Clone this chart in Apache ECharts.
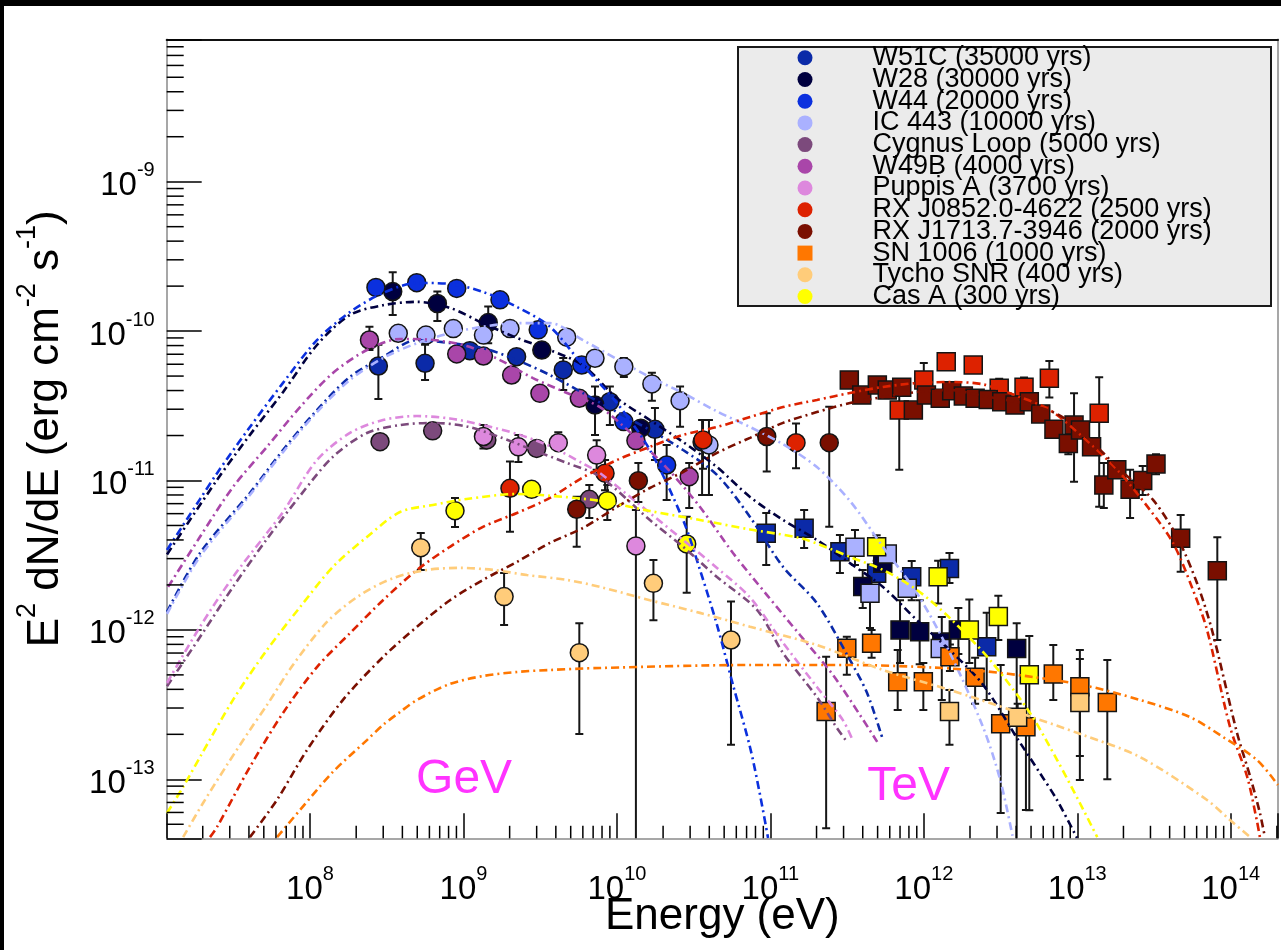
<!DOCTYPE html>
<html>
<head>
<meta charset="utf-8">
<title>Gamma-ray spectra of supernova remnants</title>
<script src="https://cdn.jsdelivr.net/npm/echarts@6.0.0/dist/echarts.min.js"></script>
<style>
  html, body { margin: 0; padding: 0; background: #ffffff; }
  #chart { width: 1281px; height: 950px; }
</style>
</head>
<body>
<div id="chart"></div>
<script>
const FONT = '"Liberation Sans", Arial, Helvetica, sans-serif';

// Axis extents: energy in eV, E^2 dN/dE in erg cm^-2 s^-1
const energyRange = [1.1645e7, 2.0335e14];
const fluxRange = [4.028e-14, 8.976e-9];

// Log-axis minor tick mantissas and decades
const minorMantissas = [2, 3, 4, 5, 6, 7, 8, 9];
const energyDecades = [7, 8, 9, 10, 11, 12, 13, 14];
const fluxDecades = [-14, -13, -12, -11, -10, -9];

// Band captions and where they sit (energy, flux)
const bandNames = ['GeV', 'TeV'];
const bandAnchors = [[1.01e9, 9.9e-14], [7.97e11, 8.86e-14]];

// Legend entries
const sourceNames = [
  'W51C (35000 yrs)', 'W28 (30000 yrs)', 'W44 (20000 yrs)', 'IC 443 (10000 yrs)',
  'Cygnus Loop (5000 yrs)', 'W49B (4000 yrs)', 'Puppis A (3700 yrs)',
  'RX J0852.0-4622 (2500 yrs)', 'RX J1713.7-3946 (2000 yrs)', 'SN 1006 (1000 yrs)',
  'Tycho SNR (400 yrs)', 'Cas A (300 yrs)'
];
const sourceColors = [
  '#0b2aa8', '#00003f', '#0b30de', '#aab1ff', '#7c4a7c', '#a946a9', '#dd88dd',
  '#dd2200', '#7a0f00', '#ff7700', '#ffcc7a', '#ffff00'
];

// Measured points: [energy, flux, fluxLow, fluxHigh]; "lat" = GeV circles, "tev" = TeV squares
const w51cLat = [
  [2.79e8, 5.84e-11, 3.51e-11, 8.1e-11], [5.62e8, 6.09e-11, 4.71e-11, 8.1e-11],
  [1.10e9, 7.4e-11], [2.22e9, 6.74e-11], [4.47e9, 5.5e-11, 4.03e-11, 6.6e-11],
  [9.0e9, 3.37e-11, 2.35e-11, 4.25e-11], [1.77e10, 2.2e-11, 1.37e-11, 3.06e-11],
  [3.59e10, 1.81e-11, 8.0e-12, 2.54e-11]
];
const w51cTev = [
  [9.4e10, 4.43e-12, 2.72e-12, 6.06e-12], [1.66e11, 4.79e-12, 3.53e-12, 6.35e-12],
  [2.84e11, 3.34e-12, 2.40e-12, 4.32e-12], [4.93e11, 2.39e-12],
  [8.34e11, 2.27e-12, 1.58e-12, 2.89e-12], [1.47e12, 2.58e-12, 2.06e-12, 3.27e-12],
  [2.57e12, 7.7e-13, 3.4e-13, 1.30e-12]
];
const w28Lat = [
  [3.46e8, 1.84e-10, 1.28e-10, 2.48e-10], [6.76e8, 1.53e-10, 1.17e-10, 1.84e-10],
  [1.45e9, 1.14e-10, 8.3e-11, 1.46e-10], [3.24e9, 7.47e-11],
  [7.2e9, 3.2e-11, 2.02e-11, 4.25e-11], [1.43e10, 2.24e-11]
];
const w28Tev = [
  [4.0e11, 1.95e-12, 1.40e-12, 2.52e-12], [5.4e11, 2.79e-12],
  [7.0e11, 1.0e-12, 6.0e-13, 1.58e-12], [9.4e11, 9.7e-13, 5.9e-13, 1.58e-12],
  [1.31e12, 8.3e-13, 3.4e-13, 1.22e-12], [1.68e12, 1.0e-12, 6.9e-13, 1.4e-12],
  [4.03e12, 7.5e-13, 1e-14, 1.11e-12]
];
const w44Lat = [
  [2.69e8, 1.96e-10], [4.96e8, 2.11e-10], [9.04e8, 1.93e-10], [1.73e9, 1.62e-10],
  [3.07e9, 1.02e-10], [5.90e9, 5.93e-11], [1.11e10, 2.48e-11],
  [2.11e10, 1.27e-11, 7.4e-12, 1.73e-11]
];
const ic443Lat = [
  [3.76e8, 9.67e-11], [5.70e8, 9.4e-11], [8.59e8, 1.04e-10], [1.35e9, 9.4e-11],
  [2.01e9, 1.04e-10], [4.71e9, 9.1e-11], [7.2e9, 6.58e-11],
  [1.11e10, 5.78e-11, 4.93e-11, 6.6e-11], [1.69e10, 4.43e-11, 3.42e-11, 5.27e-11],
  [2.58e10, 3.42e-11, 2.29e-11, 4.25e-11], [3.98e10, 1.73e-11, 8.0e-12, 2.54e-11]
];
const ic443Tev = [
  [3.56e11, 3.57e-12, 2.72e-12, 4.67e-12], [5.78e11, 3.22e-12],
  [4.46e11, 1.76e-12, 1.03e-12, 2.23e-12], [7.8e11, 1.9e-12], [1.28e12, 7.5e-13]
];
const cygnusLat = [
  [2.86e8, 1.82e-11], [6.30e8, 2.15e-11], [1.42e9, 1.87e-11], [3.0e9, 1.64e-11],
  [6.61e9, 7.48e-12, 5.61e-12, 9.33e-12]
];
const w49bLat = [
  [2.44e8, 8.72e-11, 7.47e-11, 1.07e-10], [9.04e8, 7.03e-11], [1.35e9, 6.81e-11],
  [2.06e9, 5.08e-11], [3.15e9, 3.83e-11], [5.69e9, 3.55e-11], [1.33e10, 1.85e-11],
  [2.96e10, 1.06e-11, 6.55e-12, 1.31e-11]
];
const puppisLat = [
  [1.35e9, 1.97e-11, 1.64e-11, 2.35e-11], [2.28e9, 1.68e-11, 1.33e-11, 2.02e-11],
  [4.15e9, 1.79e-11, 1.6e-11, 2.1e-11], [7.38e9, 1.48e-11, 1.18e-11, 1.86e-11],
  [1.33e10, 3.65e-12, 1e-14, 6.35e-12]
];
const velaJrLat = [
  [2.01e9, 8.87e-12, 4.54e-12, 1.34e-11], [8.37e9, 1.12e-11, 8.6e-12, 1.37e-11],
  [3.64e10, 1.87e-11, 1.2e-11, 2.54e-11], [1.47e11, 1.79e-11, 1.21e-11, 2.41e-11]
];
const velaJrTev = [
  [6.92e11, 2.96e-11, 1.18e-11, 4.71e-11], [1.0e12, 4.71e-11, 4.0e-11, 6.11e-11],
  [1.40e12, 6.24e-11, 5.6e-11, 6.8e-11], [2.10e12, 5.93e-11, 5.3e-11, 6.6e-11],
  [3.10e12, 4.14e-11, 3.8e-11, 4.8e-11], [4.50e12, 4.21e-11, 3.8e-11, 4.9e-11],
  [6.58e12, 4.83e-11, 3.6e-11, 6.3e-11], [1.39e13, 2.82e-11, 6.68e-12, 4.91e-11]
];
const rxj1713Lat = [
  [5.47e9, 6.42e-12, 3.6e-12, 7.79e-12], [1.38e10, 9.97e-12, 7.18e-12, 1.31e-11],
  [9.47e10, 1.97e-11, 1.15e-11, 2.82e-11], [2.42e11, 1.79e-11, 4.91e-12, 3.12e-11]
];
const rxj1713Tev = [
  [3.27e11, 4.71e-11], [3.94e11, 3.73e-11], [4.98e11, 4.36e-11], [5.78e11, 4.03e-11],
  [7.18e11, 4.21e-11], [8.55e11, 2.96e-11], [1.04e12, 3.73e-11], [1.28e12, 3.55e-11],
  [1.52e12, 3.99e-11], [1.81e12, 3.68e-11], [2.16e12, 3.55e-11], [2.63e12, 3.49e-11],
  [3.22e12, 3.37e-11], [3.93e12, 3.2e-11], [4.87e12, 3.37e-11], [5.78e12, 2.79e-11],
  [7.05e12, 2.2e-11], [8.75e12, 1.77e-11, 1.5e-11, 2.0e-11],
  [9.53e12, 2.35e-11, 9.8e-12, 3.83e-11], [1.05e13, 2.18e-11], [1.24e13, 1.68e-11],
  [1.49e13, 9.33e-12, 6.55e-12, 1.31e-11], [1.81e13, 1.18e-11],
  [2.21e13, 8.73e-12, 5.61e-12, 1.18e-11], [2.67e13, 1.0e-11, 8.0e-12, 1.25e-11],
  [3.26e13, 1.29e-11, 1.1e-11, 1.5e-11], [4.72e13, 4.1e-12, 2.45e-12, 5.87e-12],
  [8.18e13, 2.49e-12, 8.56e-13, 4.17e-12]
];
const sn1006Tev = [
  [2.31e11, 2.84e-13, 4.7e-14, 6.62e-13], [3.15e11, 7.53e-13, 5.0e-13, 9.0e-13],
  [4.57e11, 8.13e-13, 6.5e-13, 1.0e-12], [6.76e11, 4.5e-13, 2.91e-13, 7.33e-13],
  [9.93e11, 4.5e-13, 2.91e-13, 6.0e-13], [1.48e12, 6.62e-13, 5.3e-13, 8.0e-13],
  [2.16e12, 4.82e-13, 3.2e-13, 6.5e-13], [3.17e12, 2.35e-13, 5.95e-14, 5.82e-13],
  [4.63e12, 2.25e-13, 6.23e-14, 4.62e-13], [6.98e12, 5.07e-13, 3.4e-13, 7.92e-13],
  [1.04e13, 4.17e-13, 9.9e-14, 7.33e-13], [1.57e13, 3.26e-13, 1.0e-13, 6.29e-13]
];
const tychoLat = [
  [5.27e8, 3.55e-12, 2.52e-12, 4.45e-12], [1.84e9, 1.67e-12, 1.08e-12, 2.40e-12],
  [5.69e9, 7.04e-13, 2.01e-13, 1.11e-12], [1.73e10, 2.05e-12, 1.16e-12, 2.94e-12],
  [5.54e10, 8.56e-13, 1.7e-13, 1.55e-12]
];
const tychoTev = [
  [1.47e12, 2.84e-13, 1.70e-13, 3.96e-13], [4.09e12, 2.6e-13, 2.0e-13, 3.2e-13],
  [1.04e13, 3.26e-13, 1.43e-13, 6.38e-13]
];
const casALat = [
  [8.81e8, 6.28e-12, 4.89e-12, 7.64e-12], [2.78e9, 8.73e-12, 7.8e-12, 9.5e-12],
  [8.66e9, 7.33e-12, 5.44e-12, 9.33e-12], [2.85e10, 3.76e-12, 1.77e-12, 5.73e-12]
];
const casATev = [
  [4.93e11, 3.6e-12, 2.9e-12, 4.3e-12], [1.24e12, 2.27e-12, 1.5e-12, 2.9e-12],
  [1.98e12, 1.0e-12, 6.0e-13, 1.6e-12], [3.06e12, 1.23e-12, 8.56e-13, 1.69e-12],
  [4.87e12, 5.0e-13, 6.2e-14, 9.1e-13]
];

// Model curves: [energy, flux]
const w51cModel = [
  [1.17e7, 1.32e-12], [1.92e7, 3.27e-12], [4.06e7, 8.25e-12], [6.67e7, 1.6e-11],
  [1.11e8, 2.96e-11], [1.82e8, 4.93e-11], [2.99e8, 6.71e-11], [4.98e8, 8.72e-11],
  [8.17e8, 8.32e-11], [1.34e9, 7.7e-11], [2.23e9, 6.4e-11], [3.66e9, 5.08e-11],
  [6.01e9, 3.85e-11], [1.0e10, 2.87e-11], [1.64e10, 2.18e-11], [2.70e10, 1.6e-11],
  [4.49e10, 1.09e-11], [7.37e10, 5.7e-12], [1.21e11, 2.64e-12], [2.01e11, 1.51e-12],
  [3.30e11, 6.3e-13], [4.27e11, 3.78e-13], [5.42e11, 1.83e-13]
];
const w28Model = [
  [1.17e7, 3.2e-12], [2.48e7, 1.01e-11], [4.06e7, 2.02e-11], [6.67e7, 3.9e-11],
  [1.11e8, 8.07e-11], [1.82e8, 1.28e-10], [2.99e8, 1.49e-10], [4.98e8, 1.57e-10],
  [8.17e8, 1.43e-10], [1.34e9, 1.13e-10], [2.23e9, 9.0e-11], [3.66e9, 7.47e-11],
  [6.01e9, 5.9e-11], [1.0e10, 3.56e-11], [1.64e10, 2.54e-11], [2.70e10, 1.81e-11],
  [4.49e10, 1.23e-11], [7.37e10, 7.76e-12], [1.21e11, 5.44e-12], [2.01e11, 4.0e-12],
  [3.30e11, 2.8e-12], [5.42e11, 1.94e-12], [9.03e11, 1.16e-12], [1.48e12, 7.3e-13],
  [2.43e12, 4.3e-13], [4.05e12, 1.89e-13], [5.71e12, 1.1e-13], [7.38e12, 7.27e-14],
  [9.96e12, 4.05e-14]
];
const w44Model = [
  [1.17e7, 3.43e-12], [1.92e7, 7.5e-12], [2.48e7, 1.12e-11], [4.06e7, 2.28e-11],
  [6.67e7, 4.5e-11], [1.11e8, 8.7e-11], [1.82e8, 1.34e-10], [2.99e8, 1.8e-10],
  [4.98e8, 2.1e-10], [8.17e8, 2.07e-10], [1.34e9, 1.83e-10], [2.23e9, 1.45e-10],
  [3.66e9, 1.07e-10], [6.01e9, 5.9e-11], [1.0e10, 3.3e-11], [1.64e10, 1.6e-11],
  [2.70e10, 5.44e-12], [3.48e10, 2.52e-12], [4.49e10, 1.08e-12], [5.71e10, 4.28e-13],
  [7.37e10, 1.64e-13], [8.56e10, 7.9e-14], [9.66e10, 4.05e-14]
];
const ic443Model = [
  [1.17e7, 1.28e-12], [1.92e7, 3.1e-12], [4.06e7, 8.0e-12], [6.67e7, 1.55e-11],
  [1.11e8, 2.87e-11], [1.82e8, 4.71e-11], [2.99e8, 6.6e-11], [4.98e8, 8.3e-11],
  [8.17e8, 9.7e-11], [1.34e9, 1.07e-10], [2.23e9, 1.13e-10], [3.66e9, 1.13e-10],
  [6.01e9, 8.7e-11], [1.0e10, 6.5e-11], [1.64e10, 4.93e-11], [2.70e10, 3.85e-11],
  [4.49e10, 2.9e-11], [7.37e10, 2.28e-11], [1.21e11, 1.75e-11], [2.01e11, 1.23e-11],
  [3.30e11, 7.3e-12], [5.42e11, 3.59e-12], [9.03e11, 1.76e-12], [1.48e12, 7.0e-13],
  [2.43e12, 2.24e-13], [3.14e12, 1.0e-13], [3.81e12, 4.05e-14]
];
const cygnusModel = [
  [1.17e7, 4.2e-13], [1.92e7, 8.96e-13], [3.15e7, 1.94e-12], [5.24e7, 4.06e-12],
  [8.61e7, 7.9e-12], [1.41e8, 1.44e-11], [2.35e8, 2.08e-11], [3.86e8, 2.35e-11],
  [6.33e8, 2.43e-11], [1.05e9, 2.3e-11], [1.73e9, 1.95e-11], [2.84e9, 1.6e-11],
  [4.73e9, 1.31e-11], [7.76e9, 1.06e-11], [1.64e10, 5.44e-12], [2.70e10, 3.6e-12],
  [4.49e10, 2.26e-12], [8.19e10, 1.36e-12], [1.21e11, 7.0e-13], [2.01e11, 3.56e-13],
  [2.72e11, 2.2e-13], [3.16e11, 1.78e-13]
];
const w49bModel = [
  [1.19e7, 1.94e-12], [1.92e7, 4.2e-12], [3.15e7, 9.05e-12], [5.24e7, 1.68e-11],
  [8.61e7, 3.1e-11], [1.41e8, 5.24e-11], [2.35e8, 7.47e-11], [3.86e8, 8.86e-11],
  [6.33e8, 8.72e-11], [1.05e9, 7.95e-11], [1.73e9, 6.4e-11], [2.84e9, 4.85e-11],
  [4.73e9, 3.85e-11], [7.76e9, 3.1e-11], [1.27e10, 2.02e-11], [2.12e10, 1.21e-11],
  [3.48e10, 6.65e-12], [5.71e10, 3.27e-12], [9.51e10, 1.71e-12], [1.56e11, 9.24e-13],
  [2.56e11, 4.99e-13], [3.84e11, 2.69e-13], [4.97e11, 1.78e-13]
];
const puppisModel = [
  [1.17e7, 4.41e-13], [1.92e7, 1.05e-12], [3.15e7, 2.26e-12], [5.24e7, 4.45e-12],
  [6.67e7, 6.15e-12], [1.11e8, 1.37e-11], [1.82e8, 2.08e-11], [2.99e8, 2.54e-11],
  [4.98e8, 2.7e-11], [8.17e8, 2.6e-11], [1.34e9, 2.35e-11], [2.23e9, 2.05e-11],
  [3.66e9, 1.7e-11], [6.01e9, 1.3e-11], [7.76e9, 1.12e-11], [1.64e10, 6.06e-12],
  [2.70e10, 4.0e-12], [4.49e10, 2.6e-12], [7.37e10, 1.65e-12], [1.21e11, 8.2e-13],
  [2.01e11, 4.15e-13], [2.97e11, 2.49e-13], [3.46e11, 1.8e-13]
];
const velaJrModel = [
  [2.23e7, 4.1e-14], [2.48e7, 4.8e-14], [4.06e7, 1.21e-13], [6.67e7, 2.78e-13],
  [1.11e8, 5.64e-13], [1.82e8, 9.5e-13], [2.99e8, 1.58e-12], [4.98e8, 2.52e-12],
  [8.17e8, 3.6e-12], [1.34e9, 4.89e-12], [2.23e9, 6.06e-12], [3.66e9, 7.64e-12],
  [6.01e9, 1.05e-11], [1.0e10, 1.37e-11], [1.64e10, 1.68e-11], [2.70e10, 2.02e-11],
  [4.49e10, 2.28e-11], [7.37e10, 2.66e-11], [1.21e11, 3.1e-11], [2.01e11, 3.46e-11],
  [3.30e11, 3.85e-11], [5.42e11, 4.23e-11], [9.03e11, 4.49e-11], [1.48e12, 4.56e-11],
  [2.43e12, 4.4e-11], [4.05e12, 3.68e-11], [6.64e12, 2.96e-11], [1.09e13, 1.95e-11],
  [1.82e13, 1.18e-11], [2.98e13, 6.35e-12], [4.21e13, 3.82e-12], [5.68e13, 1.85e-12],
  [7.01e13, 1.0e-12], [9.9e13, 2.24e-13], [1.28e14, 1.04e-13], [1.48e14, 5.3e-14],
  [1.55e14, 4.1e-14]
];
const rxj1713Model = [
  [4.06e7, 4.1e-14], [6.1e7, 7.3e-14], [9.56e7, 1.57e-13], [1.64e8, 3.4e-13],
  [2.99e8, 6.58e-13], [4.98e8, 1.05e-12], [8.17e8, 1.58e-12], [1.34e9, 2.16e-12],
  [2.23e9, 2.85e-12], [3.66e9, 3.82e-12], [6.01e9, 4.81e-12], [1.0e10, 6.65e-12],
  [1.64e10, 8.91e-12], [2.70e10, 1.14e-11], [4.49e10, 1.53e-11], [7.37e10, 1.93e-11],
  [1.21e11, 2.43e-11], [2.01e11, 2.87e-11], [3.30e11, 3.3e-11], [5.42e11, 3.62e-11],
  [9.03e11, 3.91e-11], [1.48e12, 4.03e-11], [2.43e12, 3.68e-11], [4.05e12, 3.35e-11],
  [6.64e12, 2.92e-11], [8.57e12, 2.54e-11], [1.27e13, 1.78e-11], [1.9e13, 1.18e-11],
  [3.12e13, 7.41e-12], [4.47e13, 4.19e-12], [6.03e13, 2.06e-12], [7.55e13, 9.98e-13],
  [1.1e14, 2.04e-13], [1.34e14, 1.04e-13], [1.55e14, 5.95e-14], [1.67e14, 4.1e-14]
];
const sn1006Model = [
  [6.1e7, 4.1e-14], [8.61e7, 6.23e-14], [1.41e8, 1.12e-13], [2.35e8, 1.83e-13],
  [2.99e8, 2.31e-13], [3.86e8, 2.82e-13], [4.98e8, 3.4e-13], [8.17e8, 4.35e-13],
  [1.34e9, 4.91e-13], [2.23e9, 5.23e-13], [3.66e9, 5.39e-13], [7.76e9, 5.56e-13],
  [7.37e10, 5.82e-13], [3.30e11, 5.82e-13], [1.15e12, 5.6e-13], [2.43e12, 5.3e-13],
  [5.15e12, 4.84e-13], [1.09e13, 4.28e-13], [2.56e13, 3.4e-13], [5.43e13, 2.61e-13],
  [8.91e13, 1.92e-13], [1.48e14, 1.35e-13], [2.03e14, 9.16e-14]
];
const tychoModel = [
  [1.49e7, 4.1e-14], [2.01e7, 6.94e-14], [2.88e7, 1.25e-13], [4.06e7, 2.14e-13],
  [5.24e7, 3.14e-13], [7.74e7, 5.82e-13], [1.29e8, 1.13e-12], [2.12e8, 1.71e-12],
  [3.48e8, 2.22e-12], [5.79e8, 2.52e-12], [9.5e8, 2.6e-12], [1.56e9, 2.52e-12],
  [2.59e9, 2.33e-12], [4.73e9, 2.16e-12], [7.76e9, 1.94e-12], [1.64e10, 1.58e-12],
  [3.48e10, 1.30e-12], [7.37e10, 1.05e-12], [2.01e11, 7.92e-13], [5.42e11, 5.39e-13],
  [1.48e12, 3.96e-13], [4.05e12, 2.82e-13], [1.09e13, 1.98e-13], [2.56e13, 1.41e-13],
  [7.01e13, 7.27e-14], [9.9e13, 5.34e-14], [1.34e14, 4.1e-14]
];
const casAModel = [
  [1.17e7, 5.95e-14], [1.49e7, 8.88e-14], [1.92e7, 1.41e-13], [3.15e7, 3.4e-13],
  [5.24e7, 7.34e-13], [8.61e7, 1.42e-12], [1.41e8, 2.64e-12], [2.35e8, 4.19e-12],
  [3.86e8, 6.15e-12], [6.33e8, 6.86e-12], [1.05e9, 7.52e-12], [2.23e9, 8.12e-12],
  [3.66e9, 7.9e-12], [7.76e9, 7.3e-12], [1.64e10, 6.25e-12], [3.48e10, 5.44e-12],
  [7.37e10, 4.7e-12], [1.56e11, 4.12e-12], [2.56e11, 3.43e-12], [3.30e11, 3.08e-12],
  [5.42e11, 2.52e-12], [9.03e11, 1.85e-12], [1.48e12, 1.2e-12], [2.70e12, 6.29e-13],
  [4.92e12, 2.78e-13], [7.38e12, 1.35e-13], [1.04e13, 6.94e-14], [1.35e13, 4.1e-14]
];

// Per-source lookup: points and curves in legend order
const sourceLat = [w51cLat, w28Lat, w44Lat, ic443Lat, cygnusLat, w49bLat, puppisLat, velaJrLat, rxj1713Lat, [], tychoLat, casALat];
const sourceTev = [w51cTev, w28Tev, [], ic443Tev, [], [], [], velaJrTev, rxj1713Tev, sn1006Tev, tychoTev, casATev];
const sourceModels = [w51cModel, w28Model, w44Model, ic443Model, cygnusModel, w49bModel, puppisModel, velaJrModel, rxj1713Model, sn1006Model, tychoModel, casAModel];

const DASH_DOT = [8, 4, 2, 4];

function powerLabel(v) {
  const e = Math.log10(v);
  const r = Math.round(e);
  if (Math.abs(e - r) > 1e-6) return '';
  return '{b|10}{s|' + r + '}';
}
const labelRich = {
  b: { fontFamily: FONT, fontSize: 33, lineHeight: 42, verticalAlign: 'bottom', color: '#000' },
  s: { fontFamily: FONT, fontSize: 20, lineHeight: 20, verticalAlign: 'top', color: '#000' }
};

function minorTicks(decades) {
  const out = [];
  decades.forEach(d => minorMantissas.forEach(m => out.push(m * Math.pow(10, d))));
  return out;
}

function tickSeries(values, axis, len) {
  const lo = axis === 'x' ? energyRange : fluxRange;
  const inRange = values.filter(v => v > lo[0] && v < lo[1]);
  return {
    type: 'custom', silent: true, z: 5, clip: false,
    encode: { x: 0, y: 1 },
    data: inRange.map(v => axis === 'x' ? [v, fluxRange[0]] : [energyRange[0], v]),
    renderItem: (params, api) => {
      const cs = params.coordSys;
      const p = api.coord([api.value(0), api.value(1)]);
      const shape = axis === 'x'
        ? { x1: p[0], y1: cs.y + cs.height, x2: p[0], y2: cs.y + cs.height - len }
        : { x1: cs.x, y1: p[1], x2: cs.x + len, y2: p[1] };
      return { type: 'line', shape: shape, style: { stroke: '#000', lineWidth: 1.5 } };
    }
  };
}

const errorBars = [];
const series = [];

sourceNames.forEach((name, i) => {
  const pts = [];
  sourceLat[i].forEach(p => {
    pts.push({ value: [p[0], p[1]], symbol: 'circle' });
    if (p.length > 2) errorBars.push([p[0], p[2], p[3]]);
  });
  sourceTev[i].forEach(p => {
    pts.push({ value: [p[0], p[1]], symbol: 'rect' });
    if (p.length > 2) errorBars.push([p[0], p[2], p[3]]);
  });
  series.push({
    type: 'scatter', name: name, data: pts, symbolSize: 18, z: 3,
    emphasis: { disabled: true },
    itemStyle: { color: sourceColors[i], borderColor: '#141414', borderWidth: 1.5, opacity: 1 }
  });
  series.push({
    type: 'line', name: name + ' model', data: sourceModels[i], z: 4,
    smooth: 0.3, symbol: 'none', showSymbol: false, silent: true, clip: true,
    emphasis: { disabled: true },
    lineStyle: { color: sourceColors[i], width: 2.6, type: DASH_DOT }
  });
});

series.unshift({
  type: 'custom', name: 'error bars', silent: true, z: 2, clip: true,
  encode: { x: 0, y: [1, 2] },
  data: errorBars,
  renderItem: (params, api) => {
    const e = api.value(0);
    const top = api.coord([e, api.value(2)]);
    const bot = api.coord([e, api.value(1)]);
    const st = { stroke: '#161616', lineWidth: 2 };
    return {
      type: 'group',
      children: [
        { type: 'line', shape: { x1: top[0], y1: top[1], x2: bot[0], y2: bot[1] }, style: st },
        { type: 'line', shape: { x1: top[0] - 4, y1: top[1], x2: top[0] + 4, y2: top[1] }, style: st },
        { type: 'line', shape: { x1: bot[0] - 4, y1: bot[1], x2: bot[0] + 4, y2: bot[1] }, style: st }
      ]
    };
  }
});

series.push(tickSeries(minorTicks(energyDecades), 'x', 12.5));
series.push(tickSeries(minorTicks(fluxDecades), 'y', 17));

series.push({
  type: 'scatter', name: 'bands', silent: true, z: 6, symbolSize: 1,
  itemStyle: { color: 'rgba(0,0,0,0)' },
  data: bandNames.map((n, i) => ({ name: n, value: bandAnchors[i] })),
  label: {
    show: true, position: 'inside', formatter: p => p.name,
    color: '#ff00ff', fontSize: 48, fontFamily: FONT
  }
});

const axisLineGrey = { show: true, onZero: false, lineStyle: { color: '#8a8a8a', width: 1.5 } };

const option = {
  animation: false,
  backgroundColor: '#ffffff',
  textStyle: { fontFamily: FONT },
  grid: { left: 166.7, top: 39.3, right: 3, bottom: 111.7, containLabel: false, outerBoundsMode: 'none' },
  graphic: [
    { type: 'rect', z: 100, shape: { x: 0, y: 0, width: 1281, height: 6 }, style: { fill: '#000' } },
    { type: 'rect', z: 100, shape: { x: 0, y: 0, width: 4, height: 950 }, style: { fill: '#000' } },
    // legend frame
    { type: 'rect', z: 7, shape: { x: 738, y: 47, width: 533, height: 259 }, style: { fill: '#ebebeb', stroke: '#1a1a1a', lineWidth: 2 } }
  ],
  legend: {
    data: sourceNames.map(n => ({ name: n, icon: n.indexOf('SN 1006') === 0 ? 'rect' : 'circle' })),
    orient: 'vertical', left: 797.5, top: 44.3, z: 8,
    padding: 0,
    itemWidth: 15, itemHeight: 15, itemGap: -5.3,
    backgroundColor: 'transparent', borderWidth: 0,
    selectedMode: false,
    itemStyle: { borderWidth: 0 },
    formatter: n => '{t|' + n + '}',
    textStyle: {
      color: '#000', fontFamily: FONT, fontSize: 27, lineHeight: 21.6,
      rich: { t: { fontFamily: FONT, fontSize: 27, lineHeight: 21.6, padding: [0, 0, 0, 55], color: '#000' } }
    }
  },
  xAxis: [{
    type: 'log', logBase: 10, min: energyRange[0], max: energyRange[1], position: 'bottom',
    name: 'Energy (eV)', nameLocation: 'middle', nameGap: 57, nameMoveOverlap: false,
    nameTextStyle: { fontFamily: FONT, fontSize: 44, lineHeight: 44, color: '#000' },
    axisLine: axisLineGrey,
    axisTick: { show: true, inside: true, length: 25, lineStyle: { color: '#000', width: 1.5 } },
    minorTick: { show: false }, splitLine: { show: false },
    axisLabel: { show: true, margin: 26, showMinLabel: true, showMaxLabel: true, formatter: powerLabel, rich: labelRich }
  }, {
    type: 'log', logBase: 10, min: energyRange[0], max: energyRange[1], position: 'top',
    axisLine: { show: true, onZero: false, lineStyle: { color: '#111', width: 2 } },
    axisTick: { show: false }, axisLabel: { show: false }, splitLine: { show: false }, minorTick: { show: false }
  }],
  yAxis: [{
    type: 'log', logBase: 10, min: fluxRange[0], max: fluxRange[1], position: 'left',
    name: '{m|E}{u|2}{m| dN/dE (erg cm}{u|-2}{m| s}{u|-1}{m|)}',
    nameLocation: 'middle', nameGap: 99, nameRotate: 90, nameMoveOverlap: false,
    nameTextStyle: {
      color: '#000',
      padding: [0, 0, 0, 20],
      rich: {
        m: { fontFamily: FONT, fontSize: 44, lineHeight: 54, verticalAlign: 'bottom', color: '#000' },
        u: { fontFamily: FONT, fontSize: 27, lineHeight: 27, verticalAlign: 'top', color: '#000' }
      }
    },
    axisLine: axisLineGrey,
    axisTick: { show: true, inside: true, length: 35, lineStyle: { color: '#000', width: 1.5 } },
    minorTick: { show: false }, splitLine: { show: false },
    axisLabel: { show: true, margin: 12, showMinLabel: true, showMaxLabel: true, formatter: powerLabel, rich: labelRich }
  }, {
    type: 'log', logBase: 10, min: fluxRange[0], max: fluxRange[1], position: 'right',
    axisLine: { show: true, onZero: false, lineStyle: { color: '#8a8a8a', width: 1.5 } },
    axisTick: { show: false }, axisLabel: { show: false }, splitLine: { show: false }, minorTick: { show: false }
  }],
  series: series
};

const chart = echarts.init(document.getElementById('chart'), null, { renderer: 'canvas', width: 1281, height: 950 });
chart.setOption(option);
</script>
</body>
</html>
